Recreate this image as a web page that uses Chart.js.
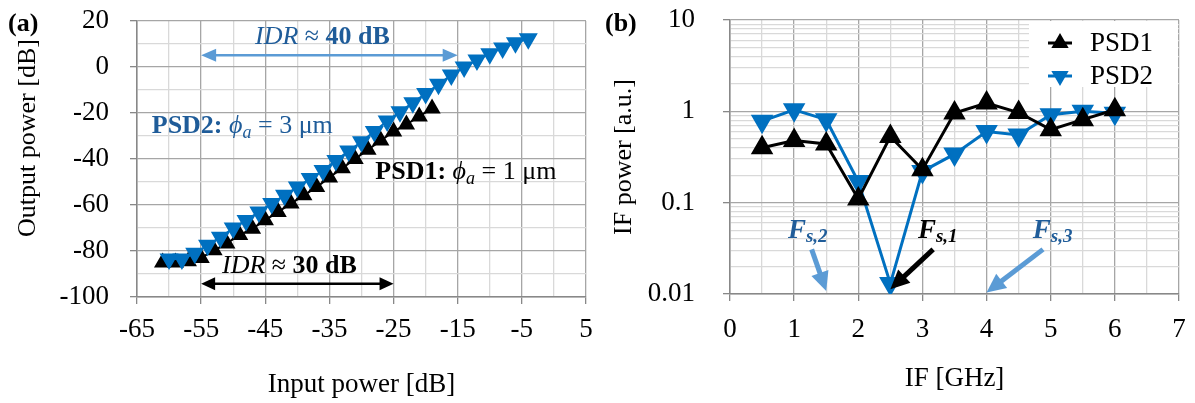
<!DOCTYPE html>
<html>
<head>
<meta charset="utf-8">
<script src="https://cdn.jsdelivr.net/npm/chart.js@4.4.0/dist/chart.umd.min.js"></script>
<style>
  body { margin: 0; background: #fff; }
  #wrap { position: relative; width: 1195px; height: 403px; }
  canvas { position: absolute; top: 0; }
  #chartA { left: 0; }
  #chartB { left: 597px; }
</style>
</head>
<body>
<div id="wrap">
  <canvas id="chartA" width="597" height="403"></canvas>
  <canvas id="chartB" width="598" height="403"></canvas>
</div>
<script>
// ---- panel (a): output vs input power ----
const inPsd1  = [-61, -59, -57, -55, -53, -51, -49, -47, -45, -43, -41, -39, -37, -35, -33, -31, -29, -27, -25, -23, -21, -19];
const outPsd1 = [-85, -85, -84.5, -83, -79.7, -76.7, -73, -70.3, -66.6, -63, -59.4, -55.8, -52.2, -48, -44, -40, -36, -32, -28, -25, -21.5, -18];
const inPsd2  = [-60, -58, -56, -54, -52, -50, -48, -46, -44, -42, -40, -38, -36, -34, -32, -30, -28, -26, -24, -22, -20, -18, -16, -14, -12, -10, -8, -6, -4];
const outPsd2 = [-83.5, -83.5, -81, -77.5, -74, -70, -66.7, -63, -59.3, -55.8, -52.2, -48.5, -45, -40.6, -36.5, -32.5, -28, -23.5, -19.5, -15.5, -11.5, -7.5, -3.5, 0, 3, 5.8, 8.3, 10.5, 12.3];
const xTicksA = [-65, -55, -45, -35, -25, -15, -5, 5];
const yTicksA = [-100, -80, -60, -40, -20, 0, 20];

// ---- panel (b): IF power vs IF ----
const ifFreq = [0.5, 1, 1.5, 2, 2.5, 3, 3.5, 4, 4.5, 5, 5.5, 6];
const ifPsd1 = [0.40, 0.48, 0.44, 0.11, 0.53, 0.23, 0.96, 1.23, 0.97, 0.63, 0.81, 1.04];
const ifPsd2 = [0.78, 1.04, 0.81, 0.17, 0.013, 0.22, 0.34, 0.60, 0.55, 0.92, 1.0, 0.95];
const xTicksB = [0, 1, 2, 3, 4, 5, 6, 7];
const yTicksB = [0.01, 0.1, 1, 10];

const serif = '"Liberation Serif", "Times New Roman", "DejaVu Serif", serif';
const blue = '#0070c0';
const lightBlue = '#5b9bd5';
const darkBlue = '#1f5c99';
const gridMajor = '#a6a6a6';
const gridMinor = '#d9d9d9';
const clear = 'rgba(0,0,0,0)';

Chart.defaults.font.family = serif;
Chart.defaults.color = '#000';

function pts(xs, ys) {
  return xs.map((x, i) => ({x: x, y: ys[i]}));
}

// keep the plot box where the layout padding puts it
function fixX(h) {
  return s => { s.height = h; s.paddingLeft = 0; s.paddingRight = 0; };
}
function fixY(w) {
  return s => { s.width = w; s.paddingTop = 0; s.paddingBottom = 0; };
}

function rich(ctx, x, y, parts) {
  ctx.save();
  ctx.textAlign = 'left';
  ctx.textBaseline = 'alphabetic';
  parts.forEach(p => {
    ctx.font = p.f;
    ctx.fillStyle = p.c;
    ctx.fillText(p.t, x, y + (p.dy || 0));
    x += ctx.measureText(p.t).width;
  });
  ctx.restore();
}

function head(ctx, fx, fy, tx, ty, len, wid) {
  const a = Math.atan2(ty - fy, tx - fx);
  const bx = tx - len * Math.cos(a), by = ty - len * Math.sin(a);
  ctx.beginPath();
  ctx.moveTo(tx, ty);
  ctx.lineTo(bx + wid / 2 * Math.sin(a), by - wid / 2 * Math.cos(a));
  ctx.lineTo(bx - wid / 2 * Math.sin(a), by + wid / 2 * Math.cos(a));
  ctx.closePath();
  ctx.fill();
}

function arrow(ctx, x1, y1, x2, y2, color, lw, len, wid, both) {
  ctx.save();
  ctx.strokeStyle = color;
  ctx.fillStyle = color;
  ctx.lineWidth = lw;
  const a = Math.atan2(y2 - y1, x2 - x1);
  const k = len * 0.8;
  const sx = both ? x1 + k * Math.cos(a) : x1;
  const sy = both ? y1 + k * Math.sin(a) : y1;
  ctx.beginPath();
  ctx.moveTo(sx, sy);
  ctx.lineTo(x2 - k * Math.cos(a), y2 - k * Math.sin(a));
  ctx.stroke();
  head(ctx, x1, y1, x2, y2, len, wid);
  if (both) head(ctx, x2, y2, x1, y1, len, wid);
  ctx.restore();
}

const annotA = {
  id: 'annotA',
  afterDraw(chart) {
    const ctx = chart.ctx;
    const x = chart.scales.x, y = chart.scales.y;
    const px = v => x.getPixelForValue(v), py = v => y.getPixelForValue(v);

    ctx.save();
    ctx.translate(28, 138);
    ctx.rotate(-Math.PI / 2);
    ctx.font = '26px ' + serif;
    ctx.textAlign = 'center';
    ctx.textBaseline = 'middle';
    ctx.fillStyle = '#000';
    ctx.fillText('Output power [dB]', 0, 0);
    ctx.restore();

    rich(ctx, 8, 31, [{t: '(a)', f: 'bold 26px ' + serif, c: '#000'}]);

    arrow(ctx, px(-55), py(5.1), px(-15), py(5.1), lightBlue, 2.5, 15, 13, true);
    rich(ctx, px(-46.6), py(9.9), [
      {t: 'IDR', f: 'italic 26px ' + serif, c: darkBlue},
      {t: ' \u2248 ', f: '26px ' + serif, c: darkBlue},
      {t: '40 dB', f: 'bold 26px ' + serif, c: darkBlue}
    ]);

    rich(ctx, px(-62.7), py(-28.7), [
      {t: 'PSD2: ', f: 'bold 26px ' + serif, c: darkBlue},
      {t: '\u03d5', f: 'italic 26px ' + serif, c: darkBlue},
      {t: 'a', f: 'italic 18px ' + serif, c: darkBlue, dy: 5},
      {t: ' = 3 \u03bcm', f: '26px ' + serif, c: darkBlue}
    ]);

    rich(ctx, px(-27.85), py(-48.8), [
      {t: 'PSD1: ', f: 'bold 26px ' + serif, c: '#000'},
      {t: '\u03d5', f: 'italic 26px ' + serif, c: '#000'},
      {t: 'a', f: 'italic 18px ' + serif, c: '#000', dy: 5},
      {t: ' = 1 \u03bcm', f: '26px ' + serif, c: '#000'}
    ]);

    arrow(ctx, px(-55), py(-94.2), px(-25), py(-94.2), '#000', 2.5, 14, 13, true);
    rich(ctx, px(-51.75), py(-89.6), [
      {t: 'IDR', f: 'italic 26px ' + serif, c: '#000'},
      {t: ' \u2248 ', f: '26px ' + serif, c: '#000'},
      {t: '30 dB', f: 'bold 26px ' + serif, c: '#000'}
    ]);
  }
};

const annotB = {
  id: 'annotB',
  afterDraw(chart) {
    const ctx = chart.ctx;
    const x = chart.scales.x, y = chart.scales.y;
    const px = v => x.getPixelForValue(v), py = v => y.getPixelForValue(v);
    const area = chart.chartArea;

    rich(ctx, 8, 31, [{t: '(b)', f: 'bold 26px ' + serif, c: '#000'}]);

    // legend
    ctx.save();
    ctx.fillStyle = '#fff';
    ctx.fillRect(area.right - 150, area.top + 1, 149, 66);
    ctx.restore();
    chart.data.datasets.forEach((ds, i) => {
      const cy = area.top + 23 + i * 33;
      const mx = area.right - 119;
      ctx.save();
      ctx.strokeStyle = ds.borderColor;
      ctx.lineWidth = 3;
      ctx.beginPath();
      ctx.moveTo(mx - 12, cy);
      ctx.lineTo(mx + 12, cy);
      ctx.stroke();
      ctx.fillStyle = ds.backgroundColor;
      Chart.helpers.drawPoint(ctx, {pointStyle: 'triangle', rotation: ds.rotation || 0, radius: 7, borderWidth: 1}, mx, cy);
      ctx.font = '27px ' + serif;
      ctx.fillStyle = '#000';
      ctx.textBaseline = 'middle';
      ctx.fillText(ds.label, area.right - 89, cy + 1);
      ctx.restore();
    });

    // sampling frequency markers
    arrow(ctx, px(1.273), py(0.0308), px(1.5), py(0.0108), lightBlue, 5, 19, 18, false);
    arrow(ctx, px(3.167), py(0.0308), px(2.5), py(0.0113), '#000', 5, 19, 18, false);
    arrow(ctx, px(4.88), py(0.0308), px(4.0), py(0.0104), lightBlue, 5, 19, 18, false);
    const fs = (v, sub, c) => rich(ctx, px(v), py(0.0412), [
      {t: 'F', f: 'bold italic 27px ' + serif, c: c},
      {t: sub, f: 'bold italic 19px ' + serif, c: c, dy: 4}
    ]);
    fs(0.903, 's,2', darkBlue);
    fs(2.93, 's,1', '#000');
    fs(4.72, 's,3', darkBlue);
  }
};

new Chart(document.getElementById('chartA'), {
  type: 'line',
  data: {
    datasets: [
      {label: 'PSD2', data: pts(inPsd2, outPsd2), borderColor: blue, backgroundColor: blue,
       pointStyle: 'triangle', rotation: 180, pointRadius: 9, borderWidth: 2, order: 0},
      {label: 'PSD1', data: pts(inPsd1, outPsd1), borderColor: '#000', backgroundColor: '#000',
       pointStyle: 'triangle', pointRadius: 8, borderWidth: 2, order: 1}
    ]
  },
  options: {
    responsive: false,
    animation: false,
    layout: {padding: {top: 21, right: 11, left: 0, bottom: 0}},
    plugins: {legend: {display: false}, tooltip: {enabled: false}},
    scales: {
      x: {
        type: 'linear', min: -65, max: 5,
        ticks: {stepSize: 5, autoSkip: false, maxRotation: 0, padding: 10, font: {size: 27},
                callback: v => xTicksA.includes(v) ? String(v) : ''},
        grid: {color: c => xTicksA.includes(c.tick.value) ? gridMajor : gridMinor,
               tickColor: c => xTicksA.includes(c.tick.value) ? '#888' : clear,
               tickLength: 7, lineWidth: 1.3},
        border: {color: '#888', width: 1.5},
        title: {display: true, text: 'Input power [dB]', font: {size: 27}, padding: {top: 0, bottom: 2}},
        afterFit: fixX(106)
      },
      y: {
        type: 'linear', min: -100, max: 20,
        ticks: {stepSize: 10, autoSkip: false, padding: 21, font: {size: 27},
                callback: v => yTicksA.includes(v) ? String(v) : ''},
        grid: {color: c => yTicksA.includes(c.tick.value) ? gridMajor : gridMinor,
               tickColor: c => yTicksA.includes(c.tick.value) ? '#888' : clear,
               tickLength: 7, lineWidth: 1.3},
        border: {color: '#888', width: 1.5},
        afterFit: fixY(137)
      }
    }
  },
  plugins: [annotA]
});

new Chart(document.getElementById('chartB'), {
  type: 'line',
  data: {
    datasets: [
      {label: 'PSD1', data: pts(ifFreq, ifPsd1), borderColor: '#000', backgroundColor: '#000',
       pointStyle: 'triangle', pointRadius: 10, borderWidth: 3},
      {label: 'PSD2', data: pts(ifFreq, ifPsd2), borderColor: blue, backgroundColor: blue,
       pointStyle: 'triangle', rotation: 180, pointRadius: 10, borderWidth: 3}
    ]
  },
  options: {
    responsive: false,
    animation: false,
    layout: {padding: {top: 20, right: 16, left: 0, bottom: 0}},
    plugins: {legend: {display: false}, tooltip: {enabled: false}},
    scales: {
      x: {
        type: 'linear', min: 0, max: 7,
        ticks: {stepSize: 0.5, autoSkip: false, maxRotation: 0, padding: 13, font: {size: 27},
                callback: v => xTicksB.includes(v) ? String(v) : ''},
        grid: {color: c => xTicksB.includes(c.tick.value) ? gridMajor : gridMinor,
               tickColor: c => xTicksB.includes(c.tick.value) ? '#888' : clear,
               tickLength: 7, lineWidth: 1.3},
        border: {color: '#888', width: 1.5},
        title: {display: true, text: 'IF [GHz]', font: {size: 27}, padding: {top: 0, bottom: 8}},
        afterFit: fixX(109)
      },
      y: {
        type: 'logarithmic', min: 0.01, max: 10,
        afterBuildTicks: s => {
          const t = [];
          for (let e = -2; e < 1; e++) {
            for (let m = 1; m < 10; m++) t.push({value: +(m * Math.pow(10, e)).toPrecision(3)});
          }
          t.push({value: 10});
          s.ticks = t;
        },
        ticks: {autoSkip: false, padding: 28, font: {size: 27},
                callback: v => yTicksB.includes(v) ? String(v) : ''},
        grid: {color: c => yTicksB.includes(c.tick.value) ? gridMajor : gridMinor,
               tickColor: c => yTicksB.includes(c.tick.value) ? '#888' : clear,
               tickLength: 7, lineWidth: 1.3},
        border: {color: '#888', width: 1.5},
        title: {display: true, text: 'IF power [a.u.]', font: {size: 26}, padding: {top: 12, bottom: 0}},
        afterFit: fixY(133)
      }
    }
  },
  plugins: [annotB]
});
</script>
</body>
</html>
